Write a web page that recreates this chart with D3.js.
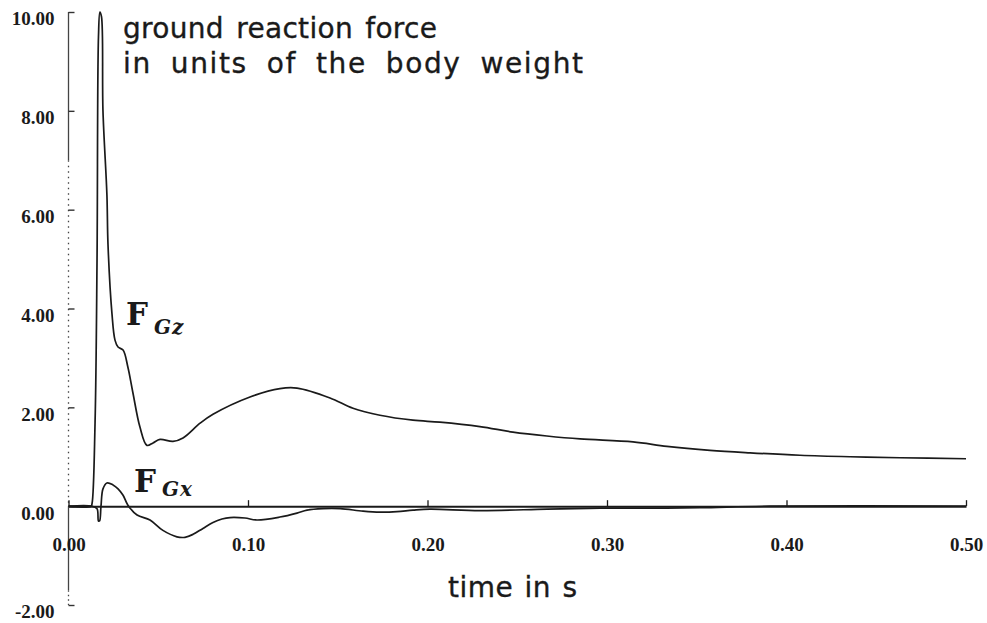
<!DOCTYPE html>
<html>
<head>
<meta charset="utf-8">
<script src="https://cdn.jsdelivr.net/npm/d3@7"></script>
<style>
  html, body { margin: 0; padding: 0; background: #fff; }
  svg { display: block; }
</style>
</head>
<body>
<svg id="chart" width="987" height="623"></svg>
<script>
// ---- data ----
const xTicks = [0, 0.1, 0.2, 0.3, 0.4, 0.5];
const yTicks = [-2, 0, 2, 4, 6, 8, 10];

// vertical ground reaction force F_Gz (time in s, body weights)
const fzTime = [0, 0.0125, 0.0131, 0.0148, 0.0159, 0.0167, 0.0175, 0.0184, 0.0192, 0.0214, 0.0220,
  0.0242, 0.0259, 0.0276, 0.0304, 0.0331, 0.0359, 0.0398, 0.0437, 0.0471, 0.0510, 0.0582,
  0.0638, 0.0733, 0.0805, 0.1011, 0.1178, 0.1273, 0.1457, 0.1585, 0.1735, 0.1919, 0.2069,
  0.2292, 0.2476, 0.2665, 0.2850, 0.3145, 0.3334, 0.3574, 0.3797, 0.4075, 0.4354, 0.4632, 0.5];
const fzValue = [0, 0, 0.05, 1.7, 5.0, 9.5, 10.0, 9.9, 8.0, 6.3, 5.3,
  3.9, 3.36, 3.22, 3.16, 2.81, 2.29, 1.6, 1.23, 1.28, 1.35, 1.31,
  1.38, 1.68, 1.86, 2.21, 2.38, 2.39, 2.19, 1.98, 1.84, 1.74, 1.70,
  1.61, 1.50, 1.42, 1.36, 1.30, 1.21, 1.13, 1.08, 1.03, 1.00, 0.98, 0.96];

// horizontal ground reaction force F_Gx
const fxTime = [0, 0.0131, 0.0159, 0.0167, 0.0173, 0.0181, 0.0192, 0.0214, 0.0248, 0.0276, 0.0304,
  0.0331, 0.0382, 0.0454, 0.0526, 0.0604, 0.0649, 0.0694, 0.0749, 0.0805, 0.0855, 0.0900,
  0.0983, 0.1050, 0.1178, 0.1273, 0.1329, 0.1418, 0.1513, 0.1641, 0.1735, 0.1830, 0.1919,
  0.2014, 0.2292, 0.2665, 0.2961, 0.3240, 0.3518, 0.3908, 0.5];
const fxValue = [0, 0, -0.05, -0.3, -0.3, 0.0, 0.35, 0.47, 0.43, 0.35, 0.22,
  0.02, -0.18, -0.28, -0.49, -0.62, -0.63, -0.57, -0.45, -0.33, -0.26, -0.23,
  -0.24, -0.28, -0.22, -0.14, -0.08, -0.05, -0.05, -0.10, -0.12, -0.11, -0.08,
  -0.06, -0.09, -0.06, -0.04, -0.04, -0.03, 0, 0];

const titleLines = ["ground reaction force", "in units of the body weight"];
const xTitle = "time in s";

// ---- drawing ----
const svg = d3.select("#chart");
const ink = "#1a1a1a";

const x = d3.scaleLinear().domain([0, 0.5]).range([68.5, 966]);
const y = d3.scaleLinear().domain([-2, 10]).range([605, 12]);

const tickFont = "'Liberation Serif', serif";
const fmt = v => d3.format(".2f")(v).replace("\u2212", "-");

// y axis line (scan-like: solid / dotted segments)
const axisX = x(0);
const ySegs = [
  {a: 10, b: 7.0, dash: null},
  {a: 7.0, b: 0, dash: "1.5,4"},
  {a: 0, b: -1.7, dash: null},
  {a: -1.7, b: -2, dash: "1.5,3"}
];
svg.append("g").selectAll("line").data(ySegs).join("line")
  .attr("x1", axisX).attr("x2", axisX)
  .attr("y1", d => y(d.a)).attr("y2", d => y(d.b))
  .attr("stroke", "#444").attr("stroke-width", 1.3)
  .attr("stroke-dasharray", d => d.dash);

// y axis ticks and labels
const yAxis = d3.axisLeft(y).tickValues(yTicks).tickFormat(fmt)
  .tickSize(-6).tickSizeOuter(0).tickPadding(14);
const gy = svg.append("g").attr("transform", `translate(${axisX},0)`).call(yAxis);
gy.select(".domain").remove();
gy.selectAll(".tick line").attr("stroke", "#333").attr("stroke-width", 1.4);
gy.selectAll(".tick text")
  .attr("dy", "0.68em")
  .attr("font-family", tickFont).attr("font-weight", "bold")
  .attr("font-size", 19).attr("fill", ink);

// x axis
const xAxis = d3.axisBottom(x).tickValues(xTicks).tickFormat(fmt)
  .tickSize(-6).tickSizeOuter(0).tickPadding(31);
const gx = svg.append("g").attr("transform", `translate(0,${y(0)})`).call(xAxis);
gx.select(".domain").attr("stroke", ink).attr("stroke-width", 2);
gx.selectAll(".tick line").attr("stroke", ink).attr("stroke-width", 1.3);
gx.selectAll(".tick text")
  .attr("font-family", tickFont).attr("font-weight", "bold")
  .attr("font-size", 19).attr("fill", ink);

// curves
const fzData = fzTime.map((t, i) => [t, fzValue[i]]);
const fxData = fxTime.map((t, i) => [t, fxValue[i]]);
const lineGen = d3.line().x(d => x(d[0])).y(d => y(d[1])).curve(d3.curveCatmullRom.alpha(0.5));

svg.append("path").datum(fzData)
  .attr("d", lineGen).attr("fill", "none")
  .attr("stroke", ink).attr("stroke-width", 1.7).attr("stroke-linejoin", "round");
svg.append("path").datum(fxData)
  .attr("d", lineGen).attr("fill", "none")
  .attr("stroke", ink).attr("stroke-width", 1.7).attr("stroke-linejoin", "round");

// text fitted to the reference widths: half of the extra room to letters, half to word gaps
const sansFont = "'DejaVu Sans', sans-serif";
function fitText(sel, target) {
  const natural = sel.node().getComputedTextLength();
  const txt = sel.text();
  const spaces = (txt.match(/ /g) || []).length;
  const extra = Math.max(0, target - natural);
  sel.attr("letter-spacing", (extra * 0.5) / (txt.length - 1));
  if (spaces > 0) sel.attr("word-spacing", (extra * 0.5) / spaces);
}
const titleWidths = [314, 460];
titleLines.forEach((t, i) => {
  const s = svg.append("text")
    .attr("x", 123).attr("y", 38 + i * 35)
    .attr("font-family", sansFont).attr("font-size", 28).attr("fill", ink)
    .attr("stroke", ink).attr("stroke-width", 0.35)
    .text(t);
  fitText(s, titleWidths[i]);
});

// x title
const xt = svg.append("text").attr("x", 448).attr("y", 597)
  .attr("font-family", sansFont).attr("font-size", 28).attr("fill", ink)
  .attr("stroke", ink).attr("stroke-width", 0.35)
  .text(xTitle);
fitText(xt, 129);

// curve labels
const serif = "'DejaVu Serif', serif";
const curveLabels = [
  {main: "F", sub: "Gz", x: 126, y: 325, sx: 154, sy: 334},
  {main: "F", sub: "Gx", x: 134, y: 492, sx: 162, sy: 496}
];
curveLabels.forEach(l => {
  svg.append("text").attr("x", l.x).attr("y", l.y)
    .attr("font-family", serif).attr("font-weight", "bold").attr("font-size", 31)
    .attr("fill", ink).text(l.main);
  svg.append("text").attr("x", l.sx).attr("y", l.sy)
    .attr("font-family", serif).attr("font-weight", "bold").attr("font-style", "italic")
    .attr("font-size", 20).attr("letter-spacing", 1).attr("fill", ink).text(l.sub);
});
</script>
</body>
</html>
